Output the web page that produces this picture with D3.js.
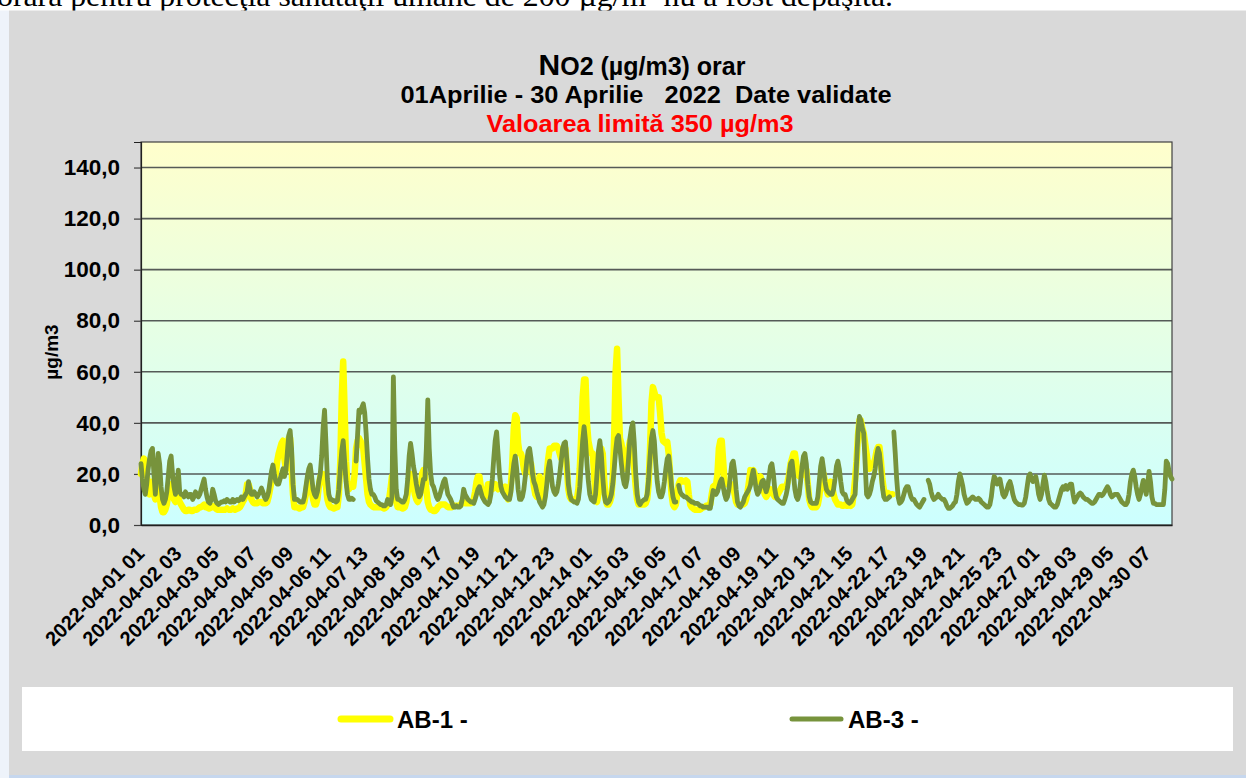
<!DOCTYPE html>
<html><head><meta charset="utf-8">
<script src="https://cdn.jsdelivr.net/npm/d3@7/dist/d3.min.js"></script>
<style>body{margin:0;background:#fff;}svg{display:block;}</style>
</head><body><svg id="c" width="1246" height="778"></svg>
<script>
// ---------------- DATA ----------------
const seriesNames = ["AB-1 -", "AB-3 -"];
// AB-1 hourly values (µg/m3), 2022-04-01 01 .. 2022-04-22 (ends ~21:00)
const ab1 = [
20,24,26,25,20,15,12,14,17,12,10,13,16,11,7,5,5,6,8,12,15,16,13,10,
9,10,11,9,8,7,6,5.5,5.5,6,6,5.5,5.5,6,6,6,6.5,7,7,7.5,8,7,7,6.5,
6.5,7,7.5,7,6.5,6,6,6,6,6,6,6,6.5,6,6,6,6.5,6,6,6.5,6.5,7,8,9,
10,12,16,16,14,10,9,8.5,8.5,8.5,9,9,9,8.5,8.5,8.5,9,11,14,17,20,18,20,25,
28,30,32,33,26,22,30,34,34,22,12,7,7,7,6.5,6.5,7,7,9,12,16,19,19,14,
10,8,8,10,15,19,20,20,19,15,10,8,7,7,6.5,6.5,7,7,12,25,50,64,45,25,
15,14,15,16,15,20,30,33,34,33,32,30,24,18,12,9,8,7.5,7,7,7,7,7,7,
7,6.5,6.5,7,8,10,14,19,20,14,9,7,7,7,6.5,6.5,7,9,13,18,20,18,15,12,
10,9,10,14,20,21.5,20,14,9,7,6,6,5.5,5.5,6,7,7.5,8,8,8,8,7.5,7,7,
7,7,7.5,7.5,7.5,7.5,7.5,8,9,9,8.5,8.5,8.5,8.5,8.5,9,10,13,17,19,19,15,12,11,
11,13,16,16,15,14,15,16,15,14,15,15,14,14,15,12,10,12,16,25,38,43,42,32,
28,28,26,22,20,22,24,24,24,20,15,12,11,14,19,15,10,11,15,20,26,30,30,30,
31,31,31,30,28,26,26,28,30,22,14,11,10,10,10,10,10,14,22,35,50,57,57,40,
33,30,28,28,20,10,9,12,20,30,28,18,10,8,8,9,11,18,35,60,69,50,34,32,
28,24,22,25,30,33,30,26,22,15,10,8,8,8,8,8,8.5,10,16,30,48,54,52,50,
50,50,44,36,33,32.5,32,32.5,28,20,12,8,7,8,12,16,17.5,17.5,17,17,17.5,17,12,8,
7,6.5,6,6,6,6,6,6.5,7,7,7.5,7.5,8,8,12,15,15.5,15.5,20,30,33,33,25,17,
16,16,16,16,16,15,12,9,8,8,8,8,8,8.5,10,13,17,21.5,21,21.5,20,18,17,18,
19,17,14,12,11,12,13,14,13,12,11,11,12,13,14,15,15,15,15,17,20,24,26,28,
28,24,20,19,19,20,21,21.5,21.5,16,10,8,7,7,7,7,8,11,16,20,20,17,14,12,
14,17,15,12,10,9,8,8,8,7.5,7.5,8,7.5,7.5,8,7.5,8,12,18,25,35,41,41,38,
36,32,28,24,22,24,24,24,26,29,30.5,30.5,25,18,14,12,12,12.5,12,12,12
];
// AB-3 hourly values (µg/m3), 2022-04-01 01 .. 2022-04-30 24 (null = missing)
const ab3 = [
24,18,14,12,16,22,26,29,30,20,12,20,28,24,15,10,8.5,10,13,19,25,27,20,15,
12,14,21.5,13,12,12,11,13,12,11,12,12,10,11,13,12,11,12,14,16,18,14,11,9,
8.5,10,14,12,9.5,8.5,8,8.5,9,9,9.5,9,10,9.5,9,9,10,9,9.5,10,9.5,10,11,10,
11,12,13,17,14,12,12,13,12,11,12,13,14.5,13,11,10,11,13,17,21,23.5,20,17,16,
16,18,20,22,19,21,28,35,37,30,16,10,10,10,9.5,9,9,9,11,15,19,22,23.5,19,
14,12,11,13,17,20,27,38,45,32,18,12,10,10,9.5,9.5,9,9.5,14,22,29,33,25,17,
12,10,10,10.5,10,null,25,35,45,44,46,47.5,44,36,26,18,14,12,12,11,9.5,9,8.5,8,
8,7.5,7.5,8,10,9,8,11,58,30,14,10,10,9.5,9,9,10,12,18,27,32,28,23,20,
16,13,11,12,15,18,18,30,49,30,20,16,15,13,11,10,11,13,15,17,18,15,12,11,
10,8.5,7,7,7.5,7,7,7.5,10,14,12,11,10,9.5,9,9,8.5,10,12,14,15,13,11,10,
9,8.5,8,9,12,18,26,33,36.5,28,20,15,13,12,11,10.5,10,10,13,19,24,27,22,14,
10,10,11,14,19,25,29,30,26,20,17,15.5,13,11,9,8,7,8,11,16,22,25,20,15,
13,12,13,16,20,25,30,32,32.5,25,16,12,10,9.5,9,9,8.5,10,15,24,33,38.5,33,24,
17,12,10,9.5,9,12,20,29,33,28,19,12,9,8.5,9,10,12,16,22,29,34,35,30,24,
19,16,15,18,26,34,38,40,32,20,12,9,8,9,9.5,10,10,12,18,27,34,37,33,24,
17,13,11,11,13,17,22,26,27,22,15,11,9,9,null,15.5,13,12,11.5,11,11,10.5,10,9.5,
9,9,8.5,8.5,8.5,8,7.5,7.5,7,7,7,7,6.5,6.5,10,13.5,13,12,13,15,17,18,15,12,
10,11,14,19,24,25,21,14,9,7.5,7,8,9,11,12,13,14,15.5,19,21.5,18,14,12,13,
15,17,17.5,15,13,15,19,23,24,20,14,11,10,9.5,9,8.5,8.5,10,12,15,20,24,25,20,
14,11,10,12,17,23,27,28,24,16,11,9,8.5,8.5,8.5,8.5,11,17,23,26,22,17,14,13,
12.5,12,12,14,18,23,25,22,17,13,12,12,10,9,8.5,9,10,11,12,24,36,42.5,41,38,
36,24,12,11,12,14,17,19,22,27,30,28,22,15,11,10,10,10.5,11,null,null,36.5,28,18,
11,8.5,9,10,12,14,15,15,13,11,10,10,9,8,7.5,7,8,9,10,null,null,17.5,16,13,
11,10,10.5,11,12,11,10.5,10,10,9,7.5,6.5,6.5,7,7.5,8.5,9,12,17,20,18,15.5,12,10,
8.5,9,10,10.5,11,10.5,10,10,10.5,10,9,8.5,8,7.5,7,7,8,11,16,19,18,16,17,18,
15,12,11,12,14,16,17,15,12,10,9,8.5,8,8,7.8,7.8,8.5,11,15,19,20,18,17,18,
19,16,12,10,12,16,19.5,17,13,10,8.5,8,7.5,7,7,8,10,12,14,15,14,15.5,14,15,
16,16,12,9,10,11,12,12.5,12,11,10.5,10,10,9.5,9,8.5,8.5,9,10,11,12,12,11.5,12,
13,14,15,14,12,11,11.5,12,12,12,11,10,9,8.5,8,8,9,12,17,20,21.5,19,15,12,
10,12,15,17.5,15,12,16,21,17,11,8.5,8.5,8,8,8,8,8,8,14,25,24,21,19,18
];
const yTicks = [0,20,40,60,80,100,120,140];
const xTickLabels = ["2022-04-01 01","2022-04-02 03","2022-04-03 05","2022-04-04 07","2022-04-05 09",
"2022-04-06 11","2022-04-07 13","2022-04-08 15","2022-04-09 17","2022-04-10 19","2022-04-11 21",
"2022-04-12 23","2022-04-14 01","2022-04-15 03","2022-04-16 05","2022-04-17 07","2022-04-18 09",
"2022-04-19 11","2022-04-20 13","2022-04-21 15","2022-04-22 17","2022-04-23 19","2022-04-24 21",
"2022-04-25 23","2022-04-27 01","2022-04-28 03","2022-04-29 05","2022-04-30 07"];
const titleLine1a = "N", titleLine1b = "O2 (µg/m3) orar";
const titleLine2 = "01Aprilie - 30 Aprilie   2022  Date validate";
const titleLine3 = "Valoarea limită 350 µg/m3";
const yAxisTitle = "µg/m3";
const pageText = "orară pentru protecţia sănătăţii umane de 200 µg/m³ nu a fost depăşită.";

// categories: hourly timestamps
const pad = n => String(n).padStart(2, "0");
const categories = d3.range(ab3.length).map(i => `2022-04-${pad(Math.floor(i/24)+1)} ${pad(i%24+1)}`);

// ---------------- LAYOUT ----------------
const svg = d3.select("#c");
const font = "'Liberation Sans', Arial, sans-serif";
const P = {l:141, r:1172, t:142, b:525};

// page text (cut off at top, as in the source document)
svg.append("text").attr("x", -3).attr("y", 6)
  .attr("font-family", "'Liberation Serif','Times New Roman',serif").attr("font-size", 30)
  .attr("textLength", 896).attr("lengthAdjust", "spacingAndGlyphs")
  .text(pageText);

// chart area
svg.append("rect").attr("x", 0).attr("y", 10.5).attr("width", 9).attr("height", 768).attr("fill", "#eef3fa");
svg.append("rect").attr("x", 9).attr("y", 10.5).attr("width", 1237).attr("height", 765).attr("fill", "#d9d9d9");
svg.append("rect").attr("x", 9).attr("y", 775).attr("width", 1237).attr("height", 3).attr("fill", "#c6d7ee");

// gradient plot background
const defs = svg.append("defs");
const g = defs.append("linearGradient").attr("id", "bg").attr("x1", 0).attr("y1", 0).attr("x2", 0).attr("y2", 1);
g.append("stop").attr("offset", "0%").attr("stop-color", "#ffffcc");
g.append("stop").attr("offset", "100%").attr("stop-color", "#ccffff");
svg.append("rect").attr("x", P.l).attr("y", P.t).attr("width", P.r-P.l).attr("height", P.b-P.t).attr("fill", "url(#bg)");

const x = d3.scalePoint().domain(categories).range([P.l, P.r]);
const y = d3.scaleLinear().domain([0, 150]).range([P.b, P.t]);

// gridlines
svg.append("g").selectAll("line").data(yTicks.filter(d => d > 0)).join("line")
  .attr("x1", P.l).attr("x2", P.r).attr("y1", d => y(d)).attr("y2", d => y(d))
  .attr("stroke", "#555a57").attr("stroke-width", 1.6);

// plot border
svg.append("rect").attr("x", P.l).attr("y", P.t).attr("width", P.r-P.l).attr("height", P.b-P.t)
  .attr("fill", "none").attr("stroke", "#404040").attr("stroke-width", 1.2);

// y axis
const yAx = svg.append("g").attr("transform", `translate(${P.l},0)`)
  .call(d3.axisLeft(y).tickValues(yTicks).tickSize(7).tickPadding(14)
    .tickFormat(d => d3.format(".1f")(d).replace(".", ",")));
yAx.select(".domain").attr("stroke", "#202020").attr("stroke-width", 1.2);
yAx.selectAll(".tick line").attr("stroke", "#404040").attr("stroke-width", 1.2);
yAx.selectAll("text").attr("font-family", font).attr("font-weight", "bold").attr("font-size", 22.5).attr("fill", "#000");

// x axis
const xAx = svg.append("g").attr("transform", `translate(0,${P.b})`)
  .call(d3.axisBottom(x).tickValues(xTickLabels).tickSize(0).tickSizeOuter(0));
xAx.select(".domain").attr("stroke", "#202020").attr("stroke-width", 1.5);
xAx.selectAll(".tick text")
  .attr("font-family", font).attr("font-weight", "bold").attr("font-size", 20).attr("fill", "#000")
  .attr("text-anchor", "end").attr("dy", 0).attr("y", 0)
  .attr("transform", "translate(4,30) rotate(-45)");

// series lines
const line = d3.line().defined(d => d != null).x((d, i) => x(categories[i])).y(d => y(d));
svg.append("path").datum(ab1).attr("d", line).attr("fill", "none")
  .attr("stroke", "#ffff00").attr("stroke-width", 6.5).attr("stroke-linejoin", "round").attr("stroke-linecap", "round");
svg.append("path").datum(ab3).attr("d", line).attr("fill", "none")
  .attr("stroke", "#77933c").attr("stroke-width", 4.8).attr("stroke-linejoin", "round").attr("stroke-linecap", "round");

// titles
const t1 = svg.append("text").attr("x", 642).attr("y", 75).attr("text-anchor", "middle")
  .attr("font-family", font).attr("font-weight", "bold").attr("fill", "#000");
t1.append("tspan").attr("font-size", 30).text(titleLine1a);
t1.append("tspan").attr("font-size", 25).text(titleLine1b);
svg.append("text").attr("x", 646).attr("y", 103).attr("text-anchor", "middle")
  .attr("font-family", font).attr("font-weight", "bold").attr("font-size", 24.5).attr("fill", "#000")
  .style("white-space", "pre").attr("textLength", 491).attr("lengthAdjust", "spacingAndGlyphs").text(titleLine2);
svg.append("text").attr("x", 640).attr("y", 132).attr("text-anchor", "middle")
  .attr("font-family", font).attr("font-weight", "bold").attr("font-size", 24.5).attr("fill", "#ff0000")
  .attr("textLength", 307).attr("lengthAdjust", "spacingAndGlyphs").text(titleLine3);

// y axis title
svg.append("text").attr("transform", "translate(58,352) rotate(-90)").attr("text-anchor", "middle")
  .attr("font-family", font).attr("font-weight", "bold").attr("font-size", 19).attr("fill", "#000").text(yAxisTitle);

// legend
svg.append("rect").attr("x", 22).attr("y", 687).attr("width", 1211).attr("height", 64).attr("fill", "#fff");
const leg = [{name: seriesNames[0], color: "#ffff00", w: 7, x0: 338}, {name: seriesNames[1], color: "#77933c", w: 5, x0: 789}];
const lg = svg.append("g").selectAll("g").data(leg).join("g");
lg.append("line").attr("x1", d => d.x0 + 3).attr("x2", d => d.x0 + 52).attr("y1", 719).attr("y2", 719)
  .attr("stroke", d => d.color).attr("stroke-width", d => d.w).attr("stroke-linecap", "round");
lg.append("text").attr("x", d => d.x0 + 59).attr("y", 727.5)
  .attr("font-family", font).attr("font-weight", "bold").attr("font-size", 24).attr("fill", "#000").text(d => d.name);
</script></body></html>
